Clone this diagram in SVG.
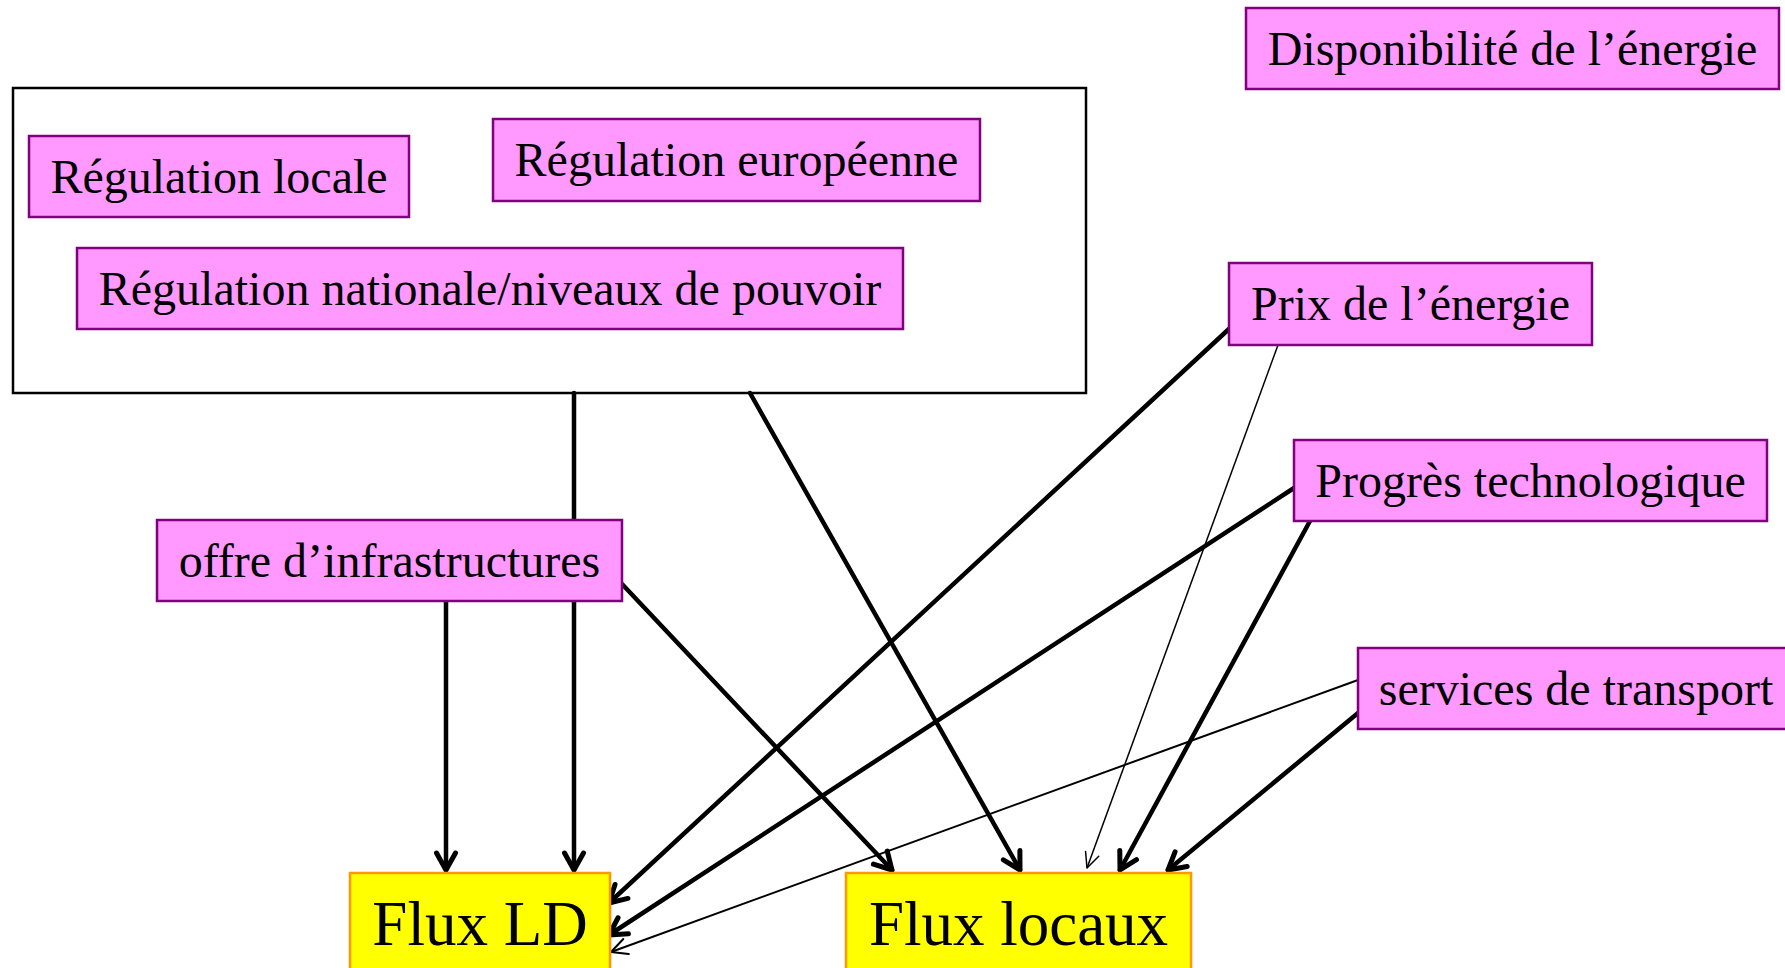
<svg xmlns="http://www.w3.org/2000/svg" width="1785" height="968" viewBox="0 0 1785 968">
  <style>
    .factor { fill: #FF99FF; stroke: #800080; stroke-width: 2.5; }
    .flux { fill: #FFFF00; stroke: #FF9900; stroke-width: 2.5; }
    .frame { fill: none; stroke: #000000; stroke-width: 2.5; }
    .lbl { font-family: "Liberation Serif", "Times New Roman", serif; font-size: 48px; fill: #000000; text-anchor: middle; }
    .big { font-size: 63px; }
    .thick { stroke: #000000; stroke-width: 4.5; fill: none; stroke-linecap: round; marker-end: url(#headThick); }
    .thin { stroke: #000000; stroke-width: 2; fill: none; marker-end: url(#headThin); }
    .hair { stroke: #000000; stroke-width: 1.5; fill: none; marker-end: url(#headHair); }
  </style>
  <defs>
    <marker id="headThick" markerUnits="userSpaceOnUse" viewBox="-22 -13 26 26" refX="0" refY="0" markerWidth="26" markerHeight="26" orient="auto">
      <path d="M -17 -9.5 L 0 0 L -17 9.5" fill="none" stroke="#000000" stroke-width="5" stroke-linecap="round" stroke-linejoin="round"/>
    </marker>
    <marker id="headThin" markerUnits="userSpaceOnUse" viewBox="-22 -13 26 26" refX="0" refY="0" markerWidth="26" markerHeight="26" orient="auto">
      <path d="M -16 -8 L 0 0 L -16 8" fill="none" stroke="#000000" stroke-width="2" stroke-linecap="round" stroke-linejoin="round"/>
    </marker>
    <marker id="headHair" markerUnits="userSpaceOnUse" viewBox="-22 -13 26 26" refX="0" refY="0" markerWidth="26" markerHeight="26" orient="auto">
      <path d="M -15 -7 L 0 0 L -15 7" fill="none" stroke="#000000" stroke-width="1.5" stroke-linecap="round" stroke-linejoin="round"/>
    </marker>
  </defs>

  <rect width="1785" height="968" fill="#FFFFFF"/>

  <g id="connectors">
    <line class="thick" x1="574" y1="393" x2="574" y2="870"/>
    <line class="thick" x1="446" y1="601" x2="446" y2="870"/>
    <line class="thick" x1="622" y1="584" x2="892" y2="870"/>
    <line class="thick" x1="750" y1="393" x2="1020" y2="870"/>
    <line class="thick" x1="1230" y1="328" x2="609" y2="903"/>
    <line class="hair" x1="1278" y1="345" x2="1087" y2="868"/>
    <line class="thick" x1="1294" y1="488" x2="609" y2="935"/>
    <line class="thick" x1="1310" y1="521" x2="1120" y2="870"/>
    <line class="thin" x1="1358" y1="680" x2="611" y2="952"/>
    <line class="thick" x1="1358" y1="713" x2="1168" y2="870"/>
  </g>

  <g id="regulation-frame">
    <rect class="frame" x="13" y="88" width="1073" height="305"/>
  </g>

  <g id="regulation-locale">
    <rect class="factor" x="29" y="136" width="380" height="81"/>
    <text class="lbl" x="219" y="193">Régulation locale</text>
  </g>

  <g id="regulation-europeenne">
    <rect class="factor" x="493" y="119" width="487" height="82"/>
    <text class="lbl" x="736.5" y="176">Régulation européenne</text>
  </g>

  <g id="regulation-nationale">
    <rect class="factor" x="77" y="248" width="826" height="81"/>
    <text class="lbl" x="490" y="305">Régulation nationale/niveaux de pouvoir</text>
  </g>

  <g id="disponibilite-energie">
    <rect class="factor" x="1246" y="8" width="533" height="81"/>
    <text class="lbl" x="1512.5" y="65">Disponibilité de l’énergie</text>
  </g>

  <g id="prix-energie">
    <rect class="factor" x="1229" y="263" width="363" height="82"/>
    <text class="lbl" x="1410.5" y="320">Prix de l’énergie</text>
  </g>

  <g id="progres-technologique">
    <rect class="factor" x="1294" y="440" width="473" height="81"/>
    <text class="lbl" x="1530.5" y="497">Progrès technologique</text>
  </g>

  <g id="services-transport">
    <rect class="factor" x="1358" y="648" width="436" height="81"/>
    <text class="lbl" x="1576" y="705">services de transport</text>
  </g>

  <g id="offre-infrastructures">
    <rect class="factor" x="157" y="520" width="465" height="81"/>
    <text class="lbl" x="389.5" y="577">offre d’infrastructures</text>
  </g>

  <g id="flux-ld">
    <rect class="flux" x="350" y="873" width="260" height="110"/>
    <text class="lbl big" x="480" y="945">Flux LD</text>
  </g>

  <g id="flux-locaux">
    <rect class="flux" x="846" y="873" width="345" height="110"/>
    <text class="lbl big" x="1018.5" y="945">Flux locaux</text>
  </g>
</svg>
